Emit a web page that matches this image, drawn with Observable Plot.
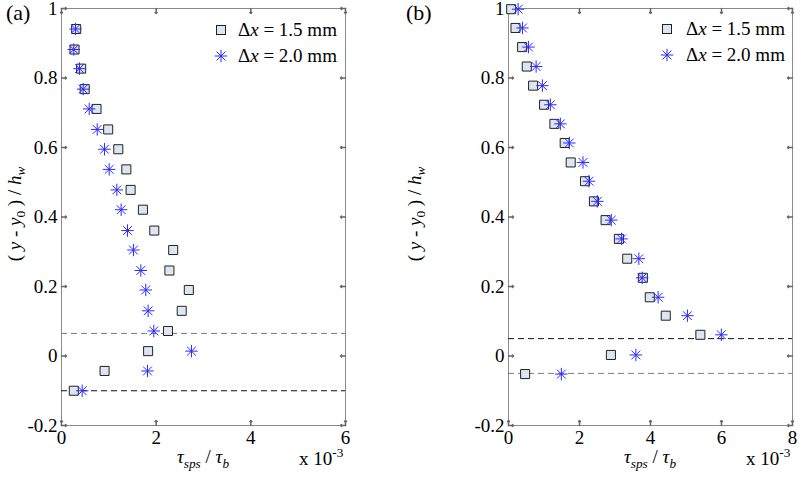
<!DOCTYPE html>
<html>
<head>
<meta charset="utf-8">
<script src="https://cdn.jsdelivr.net/npm/d3@7"></script>
<script src="https://cdn.jsdelivr.net/npm/@observablehq/plot@0.6"></script>
<style>
  html, body { margin: 0; padding: 0; background: #fff; }
  #wrap { position: relative; width: 801px; height: 482px; overflow: hidden; font-family: "Liberation Serif", "Times New Roman", serif; color: #000; }
  .panel { position: absolute; top: 0; }
  .txt { position: absolute; white-space: nowrap; font-size: 19px; line-height: 1; }
  .txt sub { font-size: 70%; vertical-align: -0.35em; line-height: 0; }
  .txt sup { font-size: 70%; vertical-align: 0.6em; line-height: 0; }
  .leg { position: absolute; display: flex; align-items: center; font-size: 19px; line-height: 1; white-space: nowrap; }
</style>
</head>
<body>
<div id="wrap"></div>
<script>
// ---------- data ----------
const seriesNames = ["Δx = 1.5 mm", "Δx = 2.0 mm"];

// Panel (a)
const aY = [0.941, 0.882, 0.827, 0.768, 0.711, 0.652, 0.595, 0.537, 0.478, 0.421, 0.361, 0.305, 0.246, 0.190, 0.130, 0.072, 0.014, -0.043, -0.100];
const aX15 = [0.31, 0.275, 0.415, 0.49, 0.74, 0.986, 1.20, 1.37, 1.46, 1.72, 1.96, 2.36, 2.28, 2.69, 2.54, 2.25, 1.83, 0.91, 0.26];
const aX20 = [0.296, 0.26, 0.38, 0.458, 0.585, 0.754, 0.908, 1.007, 1.169, 1.26, 1.394, 1.52, 1.676, 1.78, 1.83, 1.95, 2.746, 1.817, 0.437];
const aRefLines = [0.065, -0.100];

// Panel (b)
const bY = [0.998, 0.944, 0.889, 0.833, 0.778, 0.723, 0.668, 0.613, 0.557, 0.503, 0.445, 0.391, 0.337, 0.280, 0.225, 0.169, 0.116, 0.061, 0.003, -0.052];
const bX15 = [0.075, 0.197, 0.384, 0.515, 0.693, 1.002, 1.293, 1.583, 1.752, 2.155, 2.407, 2.735, 3.11, 3.344, 3.785, 3.98, 4.43, 5.405, 2.885, 0.468];
const bX20 = [0.272, 0.393, 0.562, 0.778, 0.955, 1.18, 1.461, 1.714, 2.098, 2.267, 2.501, 2.895, 3.185, 3.672, 3.766, 4.215, 5.04, 5.995, 3.588, 1.489];
const bRefLines = [0.05, -0.05];

// ticks
const yTicks = [-0.2, 0, 0.2, 0.4, 0.6, 0.8, 1];
const yTickLabels = ["-0.2", "0", "0.2", "0.4", "0.6", "0.8", "1"];
const aXTicks = [0, 2, 4, 6];
const bXTicks = [0, 2, 4, 6, 8];

// ---------- styles ----------
const FONT = "'Liberation Serif', 'Times New Roman', serif";
const SQ_FILL = "#dde5ef", SQ_STROKE = "#222";
const STAR = "#2a2aff";
const FRAME = "#8a8a8a";

const asterisk8 = {
  draw(ctx, size) {
    const r = Math.sqrt(size / Math.PI);
    const d = r * Math.SQRT1_2;
    ctx.moveTo(-r, 0); ctx.lineTo(r, 0);
    ctx.moveTo(0, -r); ctx.lineTo(0, r);
    ctx.moveTo(-d, -d); ctx.lineTo(d, d);
    ctx.moveTo(-d, d); ctx.lineTo(d, -d);
  }
};

function panel({xs15, xs20, ys, xTicks, xMax, refs, refColors, width, margins}) {
  const d15 = ys.map((y, i) => ({x: xs15[i], y}));
  const d20 = ys.map((y, i) => ({x: xs20[i], y}));
  return Plot.plot({
    width, height: 482,
    marginLeft: margins[0], marginRight: margins[1], marginTop: 8, marginBottom: 57,
    style: {fontFamily: FONT, fontSize: "19px", color: "#000", background: "transparent", overflow: "visible"},
    x: {domain: [0, xMax]},
    y: {domain: [-0.2, 1]},
    marks: [
      Plot.frame({stroke: FRAME}),
      Plot.vector(xTicks, {x: d => d, frameAnchor: "bottom", length: 5, anchor: "start", rotate: 0, stroke: "#666"}),
      Plot.vector(xTicks, {x: d => d, frameAnchor: "top", length: 5, anchor: "start", rotate: 180, stroke: "#666"}),
      Plot.vector(yTicks, {y: d => d, frameAnchor: "left", length: 5, anchor: "start", rotate: 90, stroke: "#666"}),
      Plot.vector(yTicks, {y: d => d, frameAnchor: "right", length: 5, anchor: "start", rotate: -90, stroke: "#666"}),
      Plot.axisX({ticks: xTicks, tickSize: 0, tickPadding: 5, tickFormat: d => String(d), fontSize: 19, label: null}),
      Plot.axisY({ticks: yTicks, tickSize: 0, tickPadding: 4, tickFormat: d => yTickLabels[yTicks.indexOf(d)], fontSize: 19, label: null}),
      Plot.ruleY(refs, {y: d => d, stroke: (d, i) => refColors[i], strokeDasharray: "6,4", strokeWidth: 1}),
      Plot.dot(d15, {x: "x", y: "y", symbol: "square", r: 5.1, fill: SQ_FILL, stroke: SQ_STROKE, strokeWidth: 1}),
      Plot.dot(d20, {x: "x", y: "y", symbol: asterisk8, r: 6.2, stroke: STAR, strokeWidth: 1, fill: "none"})
    ]
  });
}

const wrap = document.getElementById("wrap");

const pa = panel({xs15: aX15, xs20: aX20, ys: aY, xTicks: aXTicks, xMax: 6, refs: aRefLines,
  refColors: ["#7a7a7a", "#111"], width: 400, margins: [61, 55]});
pa.classList.add("panel"); pa.style.left = "0px";
wrap.appendChild(pa);

const pb = panel({xs15: bX15, xs20: bX20, ys: bY, xTicks: bXTicks, xMax: 8, refs: bRefLines,
  refColors: ["#111", "#7a7a7a"], width: 401, margins: [108, 9]});
pb.classList.add("panel"); pb.style.left = "400px";
wrap.appendChild(pb);

// ---------- text overlays ----------
function addText(html, left, top, extra = {}) {
  const d = document.createElement("div");
  d.className = "txt";
  d.innerHTML = html;
  d.style.left = left + "px";
  d.style.top = top + "px";
  Object.assign(d.style, extra);
  wrap.appendChild(d);
  return d;
}
const xLabel = "<i>τ</i><sub><i>sps</i></sub> / <i>τ</i><sub><i>b</i></sub>";
const yLabel = "( <i>y</i> - <i>y</i><sub>0</sub> ) / <i>h</i><sub><i>w</i></sub>";
const expLabel = "x 10<sup>-3</sup>";

[[0, "(a)", 203, 299], [400, "(b)", 650, 746]].forEach(([ox, tag, xlc, expL]) => {
  addText(tag, ox + 6, 2, {fontSize: "22px"});
  addText(xLabel, xlc, 447, {transform: "translateX(-50%)"});
  addText(expLabel, expL, 449);
  addText(yLabel, ox + 14, 214, {transform: "translate(-50%,-50%) rotate(-90deg)"});
});

// ---------- legends ----------
function legendSymbol(kind, gap) {
  const s = d3.create("svg").attr("width", 14).attr("height", 14).attr("viewBox", "-7 -7 14 14")
    .style("margin-right", gap + "px");
  if (kind === 0) {
    s.append("rect").attr("x", -4.5).attr("y", -4.5).attr("width", 9).attr("height", 9)
      .attr("fill", SQ_FILL).attr("stroke", SQ_STROKE);
  } else {
    const p = d3.path(); asterisk8.draw(p, Math.PI * 6.2 * 6.2);
    s.append("path").attr("d", p.toString()).attr("stroke", STAR).attr("fill", "none");
  }
  return s.node();
}
function addLegend(left, top, gap) {
  seriesNames.forEach((name, i) => {
    const row = document.createElement("div");
    row.className = "leg";
    row.style.left = left + "px";
    row.style.top = (top + i * 26) + "px";
    row.appendChild(legendSymbol(i, gap));
    const t = document.createElement("span");
    t.innerHTML = name.replace("x", "<i>x</i>");
    row.appendChild(t);
    wrap.appendChild(row);
  });
}
addLegend(214, 20, 10);
addLegend(660, 19, 12);
</script>
</body>
</html>
